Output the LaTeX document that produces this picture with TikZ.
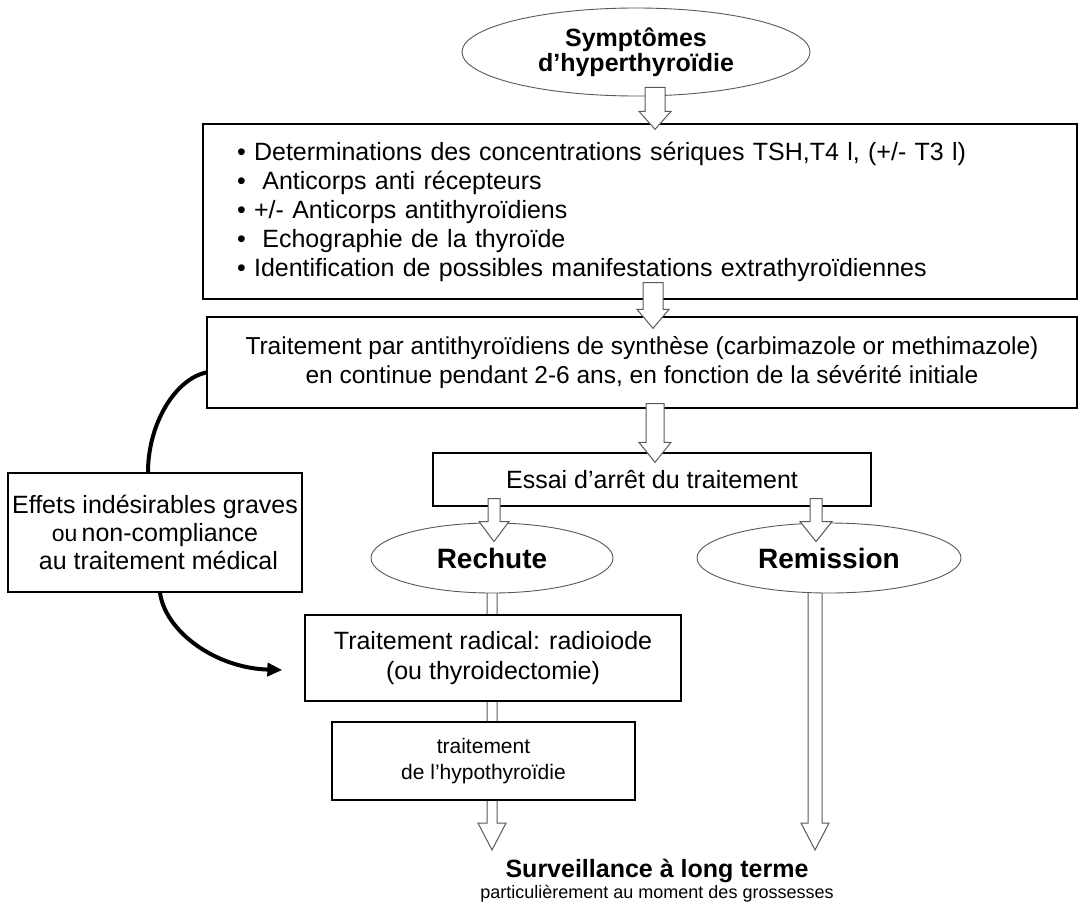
\documentclass[tikz,border=0pt]{standalone}
\usepackage{fontspec}
\setmainfont{Liberation Sans}
\usetikzlibrary{shapes.geometric,arrows.meta,calc}
\pgfdeclarelayer{bg}
\pgfdeclarelayer{fg}
\pgfsetlayers{bg,main,fg}

% Hollow downward block arrow: #1 start (top of shaft), #2 tip,
% #3 shaft half width, #4 head half width, #5 head length
\newcommand\hollowdown[5]{%
  \path[hollow] let \p1=(#1), \p2=(#2) in
    (\x2-#3,\y1) -- (\x2-#3,\y2+#5) -- (\x2-#4,\y2+#5) -- (\x2,\y2)
    -- (\x2+#4,\y2+#5) -- (\x2+#3,\y2+#5) -- (\x2+#3,\y1) -- cycle;}

\begin{document}
\begin{tikzpicture}[x=1pt,y=-1pt,
  box/.style={draw=black, line width=1.3pt, fill=white, inner sep=0pt, align=center},
  oval/.style={ellipse, draw=black!65, line width=0.9pt, fill=white, inner sep=0pt, align=center},
  hollow/.style={draw=black!65, line width=1pt, fill=white, line join=miter},
  sidepath/.style={line width=4pt, black},
  txt/.style={font=\fontsize{25}{29}\selectfont},
  bigbold/.style={font=\bfseries\fontsize{28}{32}\selectfont}]
\useasboundingbox (0,0) rectangle (1091,907);

% ---- nodes ----
\node[oval, minimum width=348pt, minimum height=88pt,
      font=\bfseries\fontsize{25}{25}\selectfont] (sym) at (636,52)
  {Symptômes\\d’hyperthyroïdie};

\node[box, minimum width=874pt, minimum height=175pt, text width=806pt,
      align=left, txt] (box1) at (640,211.5)
  {• Determinations des concentrations sériques TSH,T4 l, (+/- T3 l)\\
   •\ \ Anticorps anti récepteurs\\
   • +/- Anticorps antithyroïdiens\\
   •\ \ Echographie de la thyroïde\\
   • Identification de possibles manifestations extrathyroïdiennes};

\node[box, minimum width=870pt, minimum height=91pt,
      font=\fontsize{24.5}{29}\selectfont] (box2) at (642,362.5)
  {Traitement par antithyroïdiens de synthèse (carbimazole or methimazole)\\
   en continue pendant 2-6 ans, en fonction de la sévérité initiale};

\node[box, minimum width=438pt, minimum height=53pt, txt] (essai) at (652,479.5)
  {Essai d’arrêt du traitement};

\node[oval, minimum width=242pt, minimum height=70pt, bigbold] (rechute) at (492,558)
  {Rechute};
\node[oval, minimum width=264pt, minimum height=70pt, bigbold] (remission) at (829,558)
  {Remission};

\node[box, minimum width=376pt, minimum height=86pt,
      font=\fontsize{25}{30}\selectfont] (radical) at (493,658)
  {Traitement radical: radioiode\\(ou thyroidectomie)};

\node[box, minimum width=303pt, minimum height=78pt,
      font=\fontsize{21}{26}\selectfont] (hypo) at (483.5,761)
  {traitement\\de l’hypothyroïdie};

\node[box, minimum width=294pt, minimum height=119pt,
      font=\fontsize{25}{28}\selectfont] (effets) at (155,532.5)
  {Effets indésirables graves\\
   {\fontsize{23}{28}\selectfont ou}\,non-compliance\\
   \hspace*{7pt}au traitement médical};

\node[anchor=base, font=\bfseries\fontsize{25}{29}\selectfont] (surv) at (657,877)
  {Surveillance à long terme};
\node[anchor=base, font=\fontsize{18}{22}\selectfont] (survnote) at (657,898)
  {particulièrement au moment des grossesses};

\coordinate (endL) at (492,850);
\coordinate (endR) at (815,850);
\coordinate (radin) at ($(radical.west)+(-22,12)$);

% ---- long hollow arrows, passing behind the boxes ----
\begin{pgfonlayer}{bg}
  \hollowdown{$(rechute.south)+(0,-3)$}{endL}{5pt}{14pt}{27pt}
  \hollowdown{$(remission.south)+(-14,-3)$}{endR}{7pt}{14pt}{27pt}
\end{pgfonlayer}

% ---- short hollow arrows between steps ----
\begin{pgfonlayer}{fg}
  \hollowdown{$(sym.south)+(19,-9)$}{$(box1.north)+(15,6)$}{10pt}{16pt}{18pt}
  \hollowdown{$(box1.south)+(13,-17)$}{$(box2.north)+(11,12)$}{10pt}{16pt}{19pt}
  \hollowdown{$(box2.south)+(13,-5)$}{$(essai.north)+(3,10)$}{9pt}{16pt}{20pt}
  \hollowdown{$(essai.south)+(-158,-8)$}{$(rechute.north)+(2,19)$}{6pt}{15pt}{20pt}
  \hollowdown{$(essai.south)+(164,-8)$}{$(remission.north)+(-13,19)$}{6pt}{16pt}{20pt}

  % ---- side path for adverse effects ----
  \draw[sidepath] ($(box2.west)+(0,10)$) .. controls +(-30,6) and +(0,-50) ..
    ($(effets.north)+(-7,0)$);
  \draw[sidepath, -{Triangle[length=15pt,width=13pt]}]
    ($(effets.south)+(5,0)$) .. controls +(5,38) and +(-68,-2) .. (radin);
\end{pgfonlayer}
\end{tikzpicture}
\end{document}
